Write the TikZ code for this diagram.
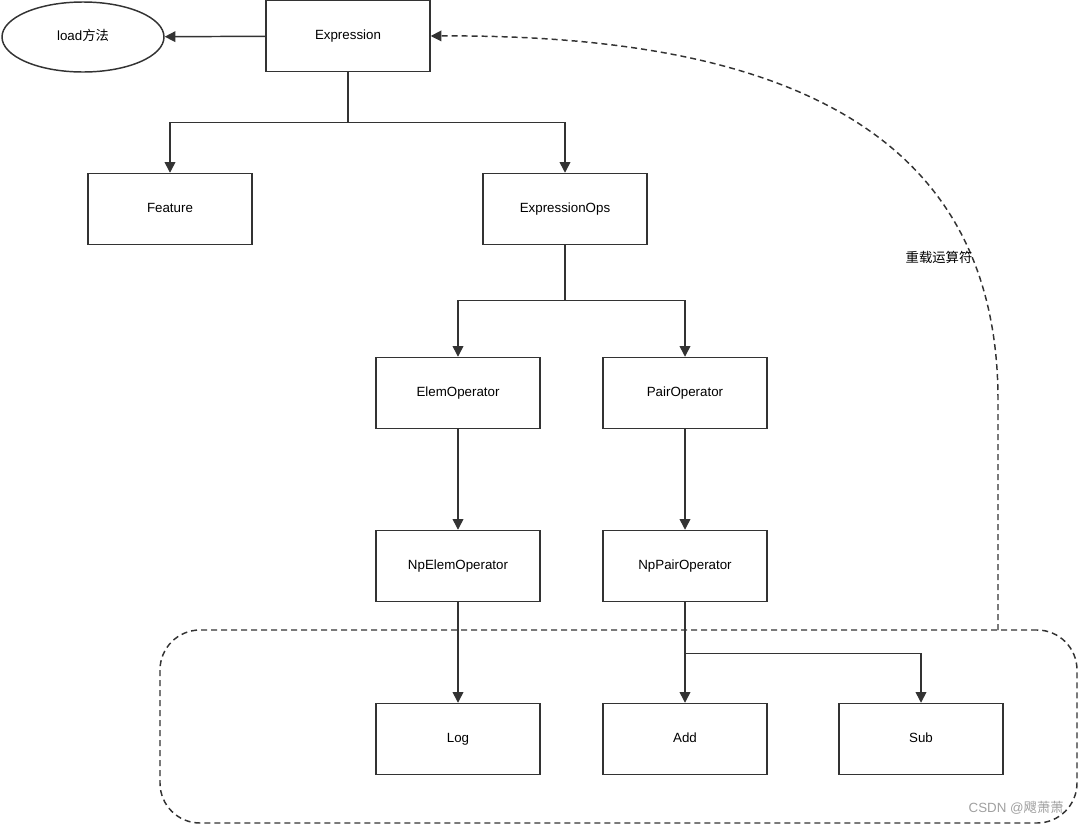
\documentclass[tikz,border=0pt]{standalone}
\usepackage{fontspec}
\setmainfont{Liberation Sans}
\newfontfamily\cjk{Noto Sans CJK SC}
\usepackage{xcolor}
\usetikzlibrary{arrows.meta,
positioning,
shapes.geometric}

\definecolor{linegray}{HTML}{333333}
\definecolor{markgray}{HTML}{A0A0A0}

\begin{document}
\begin{tikzpicture}[
    x=0.75pt, y=-0.75pt,
    >={Triangle[length=8pt,width=8pt]},
    conn/.style={draw=linegray, line width=1.1pt},
    box/.style={
        draw=linegray,
        line width=1.1pt,
        inner sep=0pt,
        text height=7.5pt,
        text depth=2pt,
        minimum width=123pt,
        minimum height=53.25pt,
        font=\fontsize{10}{12}\selectfont
    },
    ellip/.style={
        box,
        ellipse,
        minimum width=121.5pt,
        minimum height=52.5pt
    },
    dashline/.style={dash pattern=on 4.5pt off 3pt}
]

\useasboundingbox (0,0) rectangle (1079,825);

% dashed group round the leaves
\node[draw=linegray, line width=1.1pt, dashline, rounded corners=30pt,
      minimum width=687.75pt, minimum height=144.75pt, inner sep=0pt] (grp) at (618.5,726.5) {};

\node[ellip] (load) at (83,37) {load{\cjk 方法}};
\node[box] (expr) at (348,36) {Expression};

\node[box] (feat) at (170,209) {Feature};
\node[box] (ops) at (565,209) {ExpressionOps};

\node[box] (elem) at (458,393) {ElemOperator};
\node[box] (pair) at (685,393) {PairOperator};

\node[box] (npelem) at (458,566) {NpElemOperator};
\node[box] (nppair) at (685,566) {NpPairOperator};

\node[box] (log) at (458,739) {Log};
\node[box] (add) at (685,739) {Add};
\node[box] (sub) at (921,739) {Sub};

\draw[conn, ->] (expr) -- (load);

\draw[conn, ->] (expr.south) -- ++(0,50) -| (feat.north);
\draw[conn, ->] (expr.south) -- ++(0,50) -| (ops.north);

\draw[conn, ->] (ops.south) -- ++(0,55) -| (elem.north);
\draw[conn, ->] (ops.south) -- ++(0,55) -| (pair.north);

\draw[conn, ->] (elem) -- (npelem);
\draw[conn, ->] (pair) -- (nppair);

\draw[conn, ->] (npelem) -- (log);
\draw[conn, ->] (nppair.south) -- ++(0,51) -| (sub.north);
\draw[conn, ->] (nppair) -- (add);

% overloading back to Expression
\coordinate (ovl) at (998,630);
\draw[conn, ->, dashline] (ovl) -- (998,400)
    .. controls (998,130) and (780,34) .. (expr.east);
\node[font=\fontsize{10}{12}\selectfont\cjk, inner sep=1pt] (ovllabel) at (939,257) {重载运算符};

\node[font=\fontsize{10}{12}\selectfont, text=markgray, anchor=east, inner sep=0pt] (mark) at (1064,808) {CSDN @{\cjk 飕萧萧}};

\end{tikzpicture}
\end{document}
